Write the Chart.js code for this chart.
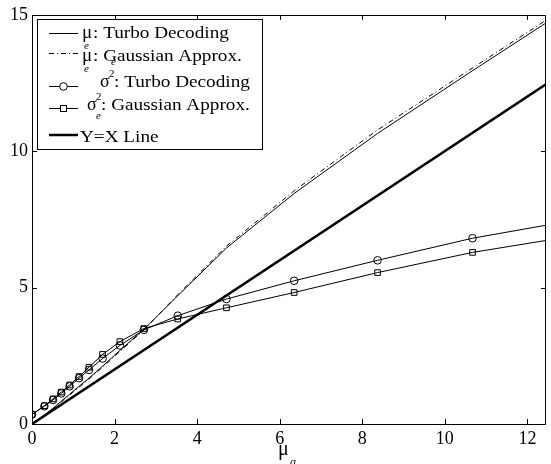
<!DOCTYPE html>
<html><head><meta charset="utf-8">
<script src="https://cdn.jsdelivr.net/npm/chart.js@4"></script>
<style>html,body{margin:0;padding:0;background:#fff}</style>
</head><body><canvas id="c" width="551" height="464"></canvas>
<script>
// ---- data ----
const muA      = [0, 0.30, 0.51, 0.71, 0.91, 1.14, 1.38, 1.71, 2.13, 2.71, 3.53, 4.71, 6.35, 8.37, 10.67, 12.5];
const muTurbo  = [0.00, 0.33, 0.58, 0.84, 1.09, 1.38, 1.68, 2.12, 2.70, 3.47, 4.70, 6.45, 8.45, 10.65, 12.95, 14.75];
const muGauss  = [0.00, 0.32, 0.56, 0.81, 1.06, 1.35, 1.65, 2.08, 2.66, 3.45, 4.74, 6.52, 8.55, 10.78, 13.05, 14.85];
const sigTurbo = [0.35, 0.65, 0.88, 1.12, 1.38, 1.68, 1.98, 2.40, 2.88, 3.45, 3.97, 4.58, 5.25, 6.00, 6.81, 7.30];
const sigGauss = [0.35, 0.67, 0.92, 1.17, 1.43, 1.74, 2.08, 2.55, 3.02, 3.50, 3.85, 4.26, 4.82, 5.55, 6.29, 6.74];
const yxX = [0, 12.5];
const yxY = [0, 12.5];
const xTicks = [0, 2, 4, 6, 8, 10, 12];
const yTicks = [0, 5, 10, 15];
const X_MAX = 12.45, Y_MAX = 15;

const pts = (xs, ys) => xs.map((x, i) => ({x, y: ys[i]}));
const FONT = 'Liberation Serif';

const markerRadius = r => (c => (c.parsed && c.parsed.x > X_MAX ? 0 : r));

const framePlugin = {
  id: 'frame',
  afterDraw(chart) {
    const ctx = chart.ctx;
    const {left, right, top, bottom} = chart.chartArea;
    const xs = chart.scales.x, ys = chart.scales.y;
    ctx.save();
    ctx.strokeStyle = '#000';
    ctx.lineWidth = 1;
    ctx.strokeRect(Math.round(left) + 0.5, Math.round(top) + 0.5, Math.round(right - left) - 1, Math.round(bottom - top));
    ctx.beginPath();
    xs.ticks.forEach(t => {
      const p = Math.round(xs.getPixelForValue(t.value)) + 0.5;
      ctx.moveTo(p, bottom); ctx.lineTo(p, bottom - 5);
      ctx.moveTo(p, top); ctx.lineTo(p, top + 5);
    });
    ys.ticks.forEach(t => {
      const p = Math.round(ys.getPixelForValue(t.value)) + 0.5;
      ctx.moveTo(left, p); ctx.lineTo(left + 5, p);
      ctx.moveTo(right, p); ctx.lineTo(right - 5, p);
    });
    ctx.stroke();

    const T = (s, x, y, size, italic, sx) => {
      ctx.save();
      ctx.translate(x, y);
      ctx.scale(sx || 1, 1);
      ctx.font = (italic ? 'italic ' : '') + size + 'px "' + FONT + '"';
      ctx.fillStyle = '#000';
      ctx.textBaseline = 'alphabetic';
      ctx.textAlign = 'left';
      ctx.fillText(s, 0, 0);
      ctx.restore();
    };
    const W = 1.2;

    // legend box
    ctx.fillStyle = '#fff';
    ctx.fillRect(37.5, 19.5, 225, 130);
    ctx.strokeRect(37.5, 19.5, 225, 130);
    const seg = (y, w, dash) => {
      ctx.save();
      ctx.lineWidth = w; ctx.setLineDash(dash || []);
      ctx.beginPath(); ctx.moveTo(49, y); ctx.lineTo(78, y); ctx.stroke();
      ctx.restore();
    };
    seg(33.5, 1);
    seg(53.5, 1, [5, 3, 1, 3]);
    seg(86.5, 1);
    ctx.beginPath(); ctx.arc(63.5, 86.5, 3.8, 0, Math.PI * 2); ctx.fillStyle = '#fff'; ctx.fill(); ctx.stroke();
    seg(108.5, 1);
    ctx.fillStyle = '#fff'; ctx.fillRect(60.5, 105.5, 6, 6); ctx.strokeRect(60.5, 105.5, 6, 6);
    seg(135, 2.5);

    T('\u03bc', 82, 38, 19); T('e', 84, 49, 11, true); T(': Turbo Decoding', 93, 38, 16, false, W);
    T('\u03bc', 82, 61, 19); T('e', 84, 72, 11, true); T(': Gaussian Approx.', 93, 61, 16, false, W);
    T('\u03c3', 100, 87, 18); T('2', 109, 77, 11); T('e', 111, 65, 11, true); T(': Turbo Decoding', 114, 87, 16, false, W);
    T('\u03c3', 87, 110, 18); T('2', 96, 100, 11); T('e', 96, 119, 11, true); T(': Gaussian Approx.', 101, 110, 16, false, W);
    T('Y=X Line', 80, 142, 16, false, W);

    // x-axis title
    T('\u03bc', 278, 455, 20); T('a', 290, 466, 12, true);
    ctx.restore();
  }
};

new Chart(document.getElementById('c'), {
  type: 'line',
  data: {
    datasets: [
      {label: 'mu_e Turbo', data: pts(muA, muTurbo), borderColor: '#000', borderWidth: 1, pointRadius: 0, tension: 0},
      {label: 'mu_e Gauss', data: pts(muA, muGauss), borderColor: '#000', borderWidth: 1, borderDash: [5, 3, 1, 3], pointRadius: 0, tension: 0},
      {label: 'sigma Turbo', data: pts(muA, sigTurbo), borderColor: '#000', borderWidth: 1, pointStyle: 'circle',
        pointRadius: markerRadius(3.8), pointBorderWidth: 1, pointBorderColor: '#000', pointBackgroundColor: 'rgba(255,255,255,0)', tension: 0},
      {label: 'sigma Gauss', data: pts(muA, sigGauss), borderColor: '#000', borderWidth: 1, pointStyle: 'rect',
        pointRadius: markerRadius(4), pointBorderWidth: 1, pointBorderColor: '#000', pointBackgroundColor: 'rgba(255,255,255,0)', tension: 0},
      {label: 'Y=X', data: pts(yxX, yxY), borderColor: '#000', borderWidth: 2.5, pointRadius: 0, tension: 0}
    ]
  },
  options: {
    responsive: false, animation: false, devicePixelRatio: 1,
    layout: {padding: {top: 14, right: 1, left: 0, bottom: 0}},
    plugins: {legend: {display: false}, tooltip: {enabled: false}},
    scales: {
      x: {
        type: 'linear', min: 0, max: X_MAX,
        grid: {display: false, drawTicks: false}, border: {display: false},
        afterBuildTicks: s => { s.ticks = xTicks.map(v => ({value: v})); },
        ticks: {color: '#000', font: {family: FONT, size: 18}, padding: 4, maxRotation: 0, autoSkip: false, includeBounds: false},
        afterFit: s => { s.height = 40; }
      },
      y: {
        type: 'linear', min: 0, max: Y_MAX,
        grid: {display: false, drawTicks: false}, border: {display: false},
        afterBuildTicks: s => { s.ticks = yTicks.map(v => ({value: v})); },
        ticks: {color: '#000', font: {family: FONT, size: 18}, padding: 4, autoSkip: false, includeBounds: false},
        afterFit: s => { s.width = 32; }
      }
    }
  },
  plugins: [framePlugin]
});
</script>
</body></html>
